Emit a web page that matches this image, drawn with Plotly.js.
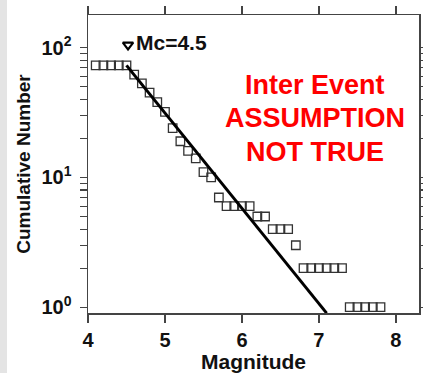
<!DOCTYPE html>
<html>
<head>
<meta charset="utf-8">
<script src="https://cdn.plot.ly/plotly-3.0.1.min.js"></script>
<style>
html,body{margin:0;padding:0;background:#fff;}
#chart{width:423px;height:373px;}
</style>
</head>
<body>
<div id="chart"></div>
<script>
// Observed cumulative counts
const magnitude = [4.1,4.2,4.3,4.4,4.5,4.6,4.7,4.8,4.9,5.0,5.1,5.2,5.3,5.4,5.5,5.6,5.7,5.8,5.9,6.0,6.1,6.2,6.3,6.4,6.5,6.6,6.7,6.8,6.9,7.0,7.1,7.2,7.3,7.4,7.5,7.6,7.7,7.8];
const cumulativeNumber = [73,73,73,73,73,62,53,45,38,32,24,19,16,14,11,10,7,6,6,6,6,5,5,4,4,4,3,2,2,2,2,2,2,1,1,1,1,1];
// Gutenberg-Richter fit line (endpoints)
const fitMagnitude = [4.5, 7.1];
const fitNumber = [73, 0.9];
// Magnitude of completeness marker
const mcMagnitude = [4.52];
const mcNumber = [105];
const mcLabel = "Mc=4.5";
const noteLines = ["Inter Event", "ASSUMPTION", "NOT TRUE"];
const xTicks = [4,5,6,7,8];
const yMajorTicks = [1, 10, 100];
const yMajorLabels = ["10<sup>0</sup>", "10<sup>1</sup>", "10<sup>2</sup>"];

const FONT = "Liberation Sans, Arial, Helvetica, sans-serif";

// tick positions: majors plus 2..9 of each decade (labels only on majors)
const yTickVals = [], yTickText = [];
yMajorTicks.forEach((d, i) => {
  yTickVals.push(d); yTickText.push(yMajorLabels[i]);
  if (i < yMajorTicks.length - 1) {
    for (let k = 2; k <= 9; k++) { yTickVals.push(d * k); yTickText.push(""); }
  }
});

const traces = [
  {
    x: magnitude, y: cumulativeNumber, type: 'scatter', mode: 'markers',
    marker: {symbol: 'square-open', size: 8.5, color: '#333', line: {width: 1.3, color: '#333'}},
    showlegend: false, cliponaxis: false
  },
  {
    x: fitMagnitude, y: fitNumber, type: 'scatter', mode: 'lines',
    line: {color: '#000', width: 3}, showlegend: false
  },
  {
    x: mcMagnitude, y: mcNumber, type: 'scatter', mode: 'markers',
    marker: {symbol: 'triangle-down-open', size: 9, color: '#000', line: {width: 2.2, color: '#000'}},
    showlegend: false, cliponaxis: false
  }
];

const annotations = [
  {xref: 'paper', yref: 'paper', x: (134 - 88) / 331, y: (313 - 42) / 298, xanchor: 'left', yanchor: 'middle',
   text: mcLabel, showarrow: false, font: {family: FONT, size: 21, color: '#111', weight: 'bold'}}
];
const noteY = [85, 118, 152];
noteLines.forEach((t, i) => {
  annotations.push({xref: 'paper', yref: 'paper', x: (315 - 88) / 331, y: (313 - noteY[i]) / 298,
    xanchor: 'center', yanchor: 'middle', text: t, showarrow: false,
    font: {family: FONT, size: 27, color: '#ff0000', weight: 'bold'}});
});

const layout = {
  width: 423, height: 373,
  margin: {l: 88, r: 4, t: 15, b: 60, pad: 0},
  paper_bgcolor: '#ffffff', plot_bgcolor: '#ffffff',
  font: {family: FONT, color: '#111'},
  xaxis: {
    range: [4, 8.3], tickvals: xTicks, ticktext: xTicks.map(String),
    showgrid: false, zeroline: false,
    showline: true, linecolor: '#444', linewidth: 1.5, mirror: 'ticks',
    ticks: 'outside', ticklen: 8, tickwidth: 1.2, tickcolor: '#444',
    tickfont: {family: FONT, size: 20, color: '#111', weight: 'bold'},
    title: {text: 'Magnitude', standoff: 6, font: {family: FONT, size: 21, color: '#111', weight: 'bold'}}
  },
  yaxis: {
    type: 'log', range: [-0.045, 2.252], tickvals: yTickVals, ticktext: yTickText,
    showgrid: false, zeroline: false,
    showline: true, linecolor: '#444', linewidth: 1.5, mirror: 'ticks',
    ticks: 'outside', ticklen: 7, tickwidth: 1.1, tickcolor: '#444',
    ticklabelstandoff: 4,
    tickfont: {family: FONT, size: 20, color: '#111', weight: 'bold'},
    title: {text: 'Cumulative Number', standoff: 6, font: {family: FONT, size: 19, color: '#111', weight: 'bold'}}
  },
  annotations: annotations,
  shapes: [
    {type: 'rect', xref: 'paper', yref: 'paper', x0: -88/331, x1: -81/331, y0: -60/298, y1: 313/298,
     fillcolor: '#e4e4e4', line: {width: 0}, layer: 'below'}
  ]
};

Plotly.newPlot('chart', traces, layout, {displayModeBar: false, staticPlot: true});
</script>
</body>
</html>
